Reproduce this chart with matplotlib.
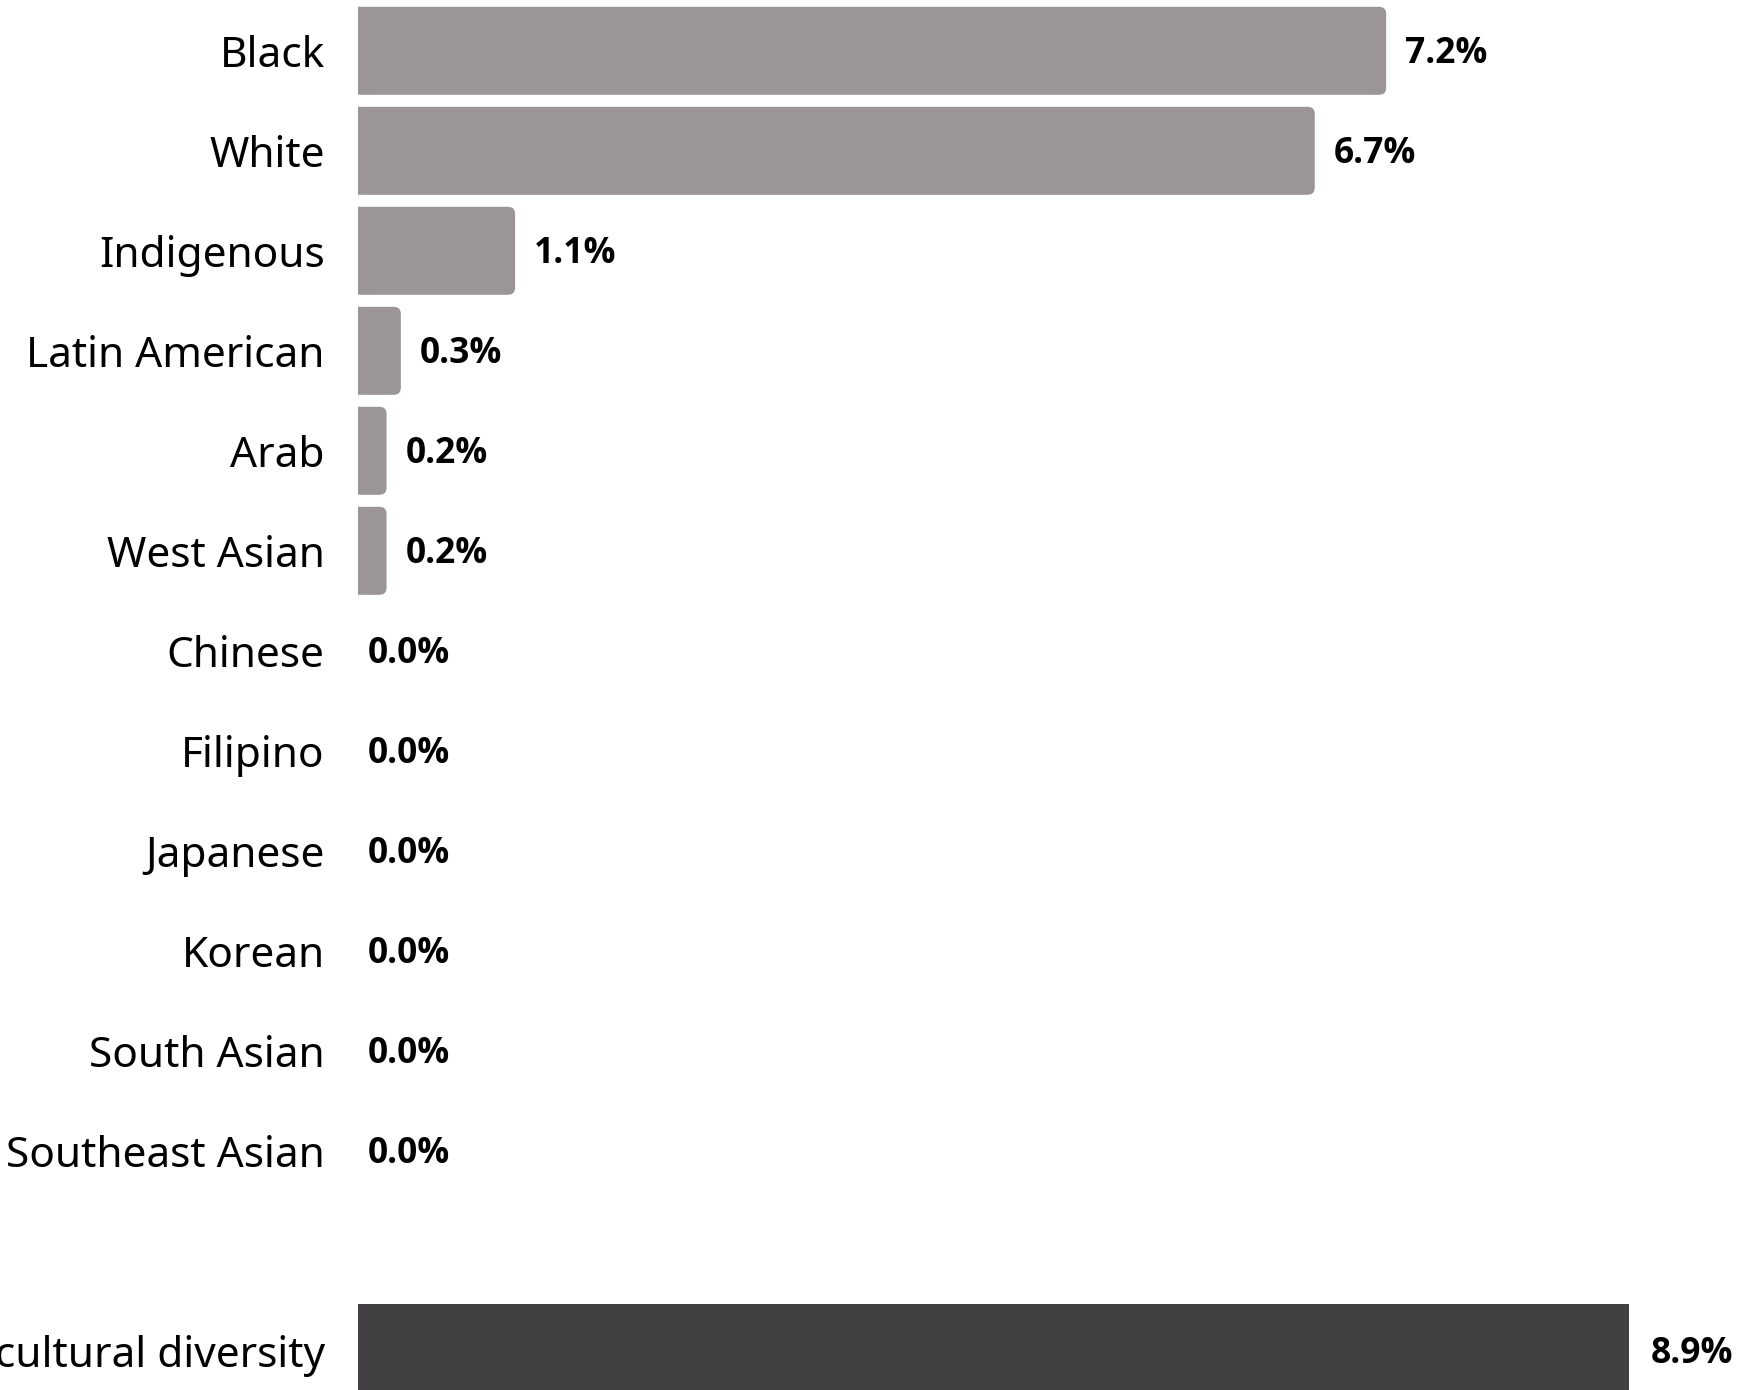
import matplotlib
matplotlib.use('Agg')
import matplotlib.pyplot as plt
from matplotlib.patches import FancyBboxPatch

# data
groups = ['Black', 'White', 'Indigenous', 'Latin American', 'Arab', 'West Asian',
          'Chinese', 'Filipino', 'Japanese', 'Korean', 'South Asian', 'Southeast Asian']
shares = [7.2, 6.7, 1.1, 0.3, 0.2, 0.2, 0.0, 0.0, 0.0, 0.0, 0.0, 0.0]
total_label = 'Multicultural diversity'
total_share = 8.9

GREY = '#9c9597'
DARK = '#434043'
VALUE_FONT = ['Open Sans', 'DejaVu Sans']

fig = plt.figure(figsize=(17.49, 13.90), dpi=100)
ax = fig.add_axes([358 / 1749, 0, 1 - 358 / 1749, 1])

bar_h = 0.88
positions = list(range(len(groups)))
total_pos = len(groups) + 1

for y, v in zip(positions, shares):
    if v > 0:
        # start a little left of zero so the left rounding gets clipped by the axes
        box = FancyBboxPatch((-0.2, y - bar_h / 2), v + 0.2, bar_h,
                             boxstyle='round,pad=0,rounding_size=0.05',
                             mutation_aspect=1.4,
                             facecolor=GREY, edgecolor='none')
        ax.add_patch(box)
    off = 19 if v > 0 else 10
    ax.annotate('{:.1f}%'.format(v), (v, y), xytext=(off, -3), textcoords='offset pixels',
                ha='left', va='center', fontsize=25.5, fontweight='bold',
                family=VALUE_FONT, color='black')

ax.barh(total_pos - 0.03, total_share + 0.02, height=bar_h, left=-0.02, color=DARK)
ax.annotate('{:.1f}%'.format(total_share), (total_share, total_pos), xytext=(22, -3),
            textcoords='offset pixels', ha='left', va='center', fontsize=25.5,
            fontweight='bold', family=VALUE_FONT, color='black')

ax.set_xlim(0, 1391 / 142.8)
ax.set_ylim((1390 - 50.8) / 100, -0.508)

ax.set_yticks(positions + [total_pos])
ax.set_yticklabels(groups + [total_label], fontsize=30.5, family='Noto Sans')
ax.tick_params(axis='y', length=0, pad=24)
ax.set_xticks([])
for s in ax.spines.values():
    s.set_visible(False)

fig.savefig('out.png', dpi=100)
